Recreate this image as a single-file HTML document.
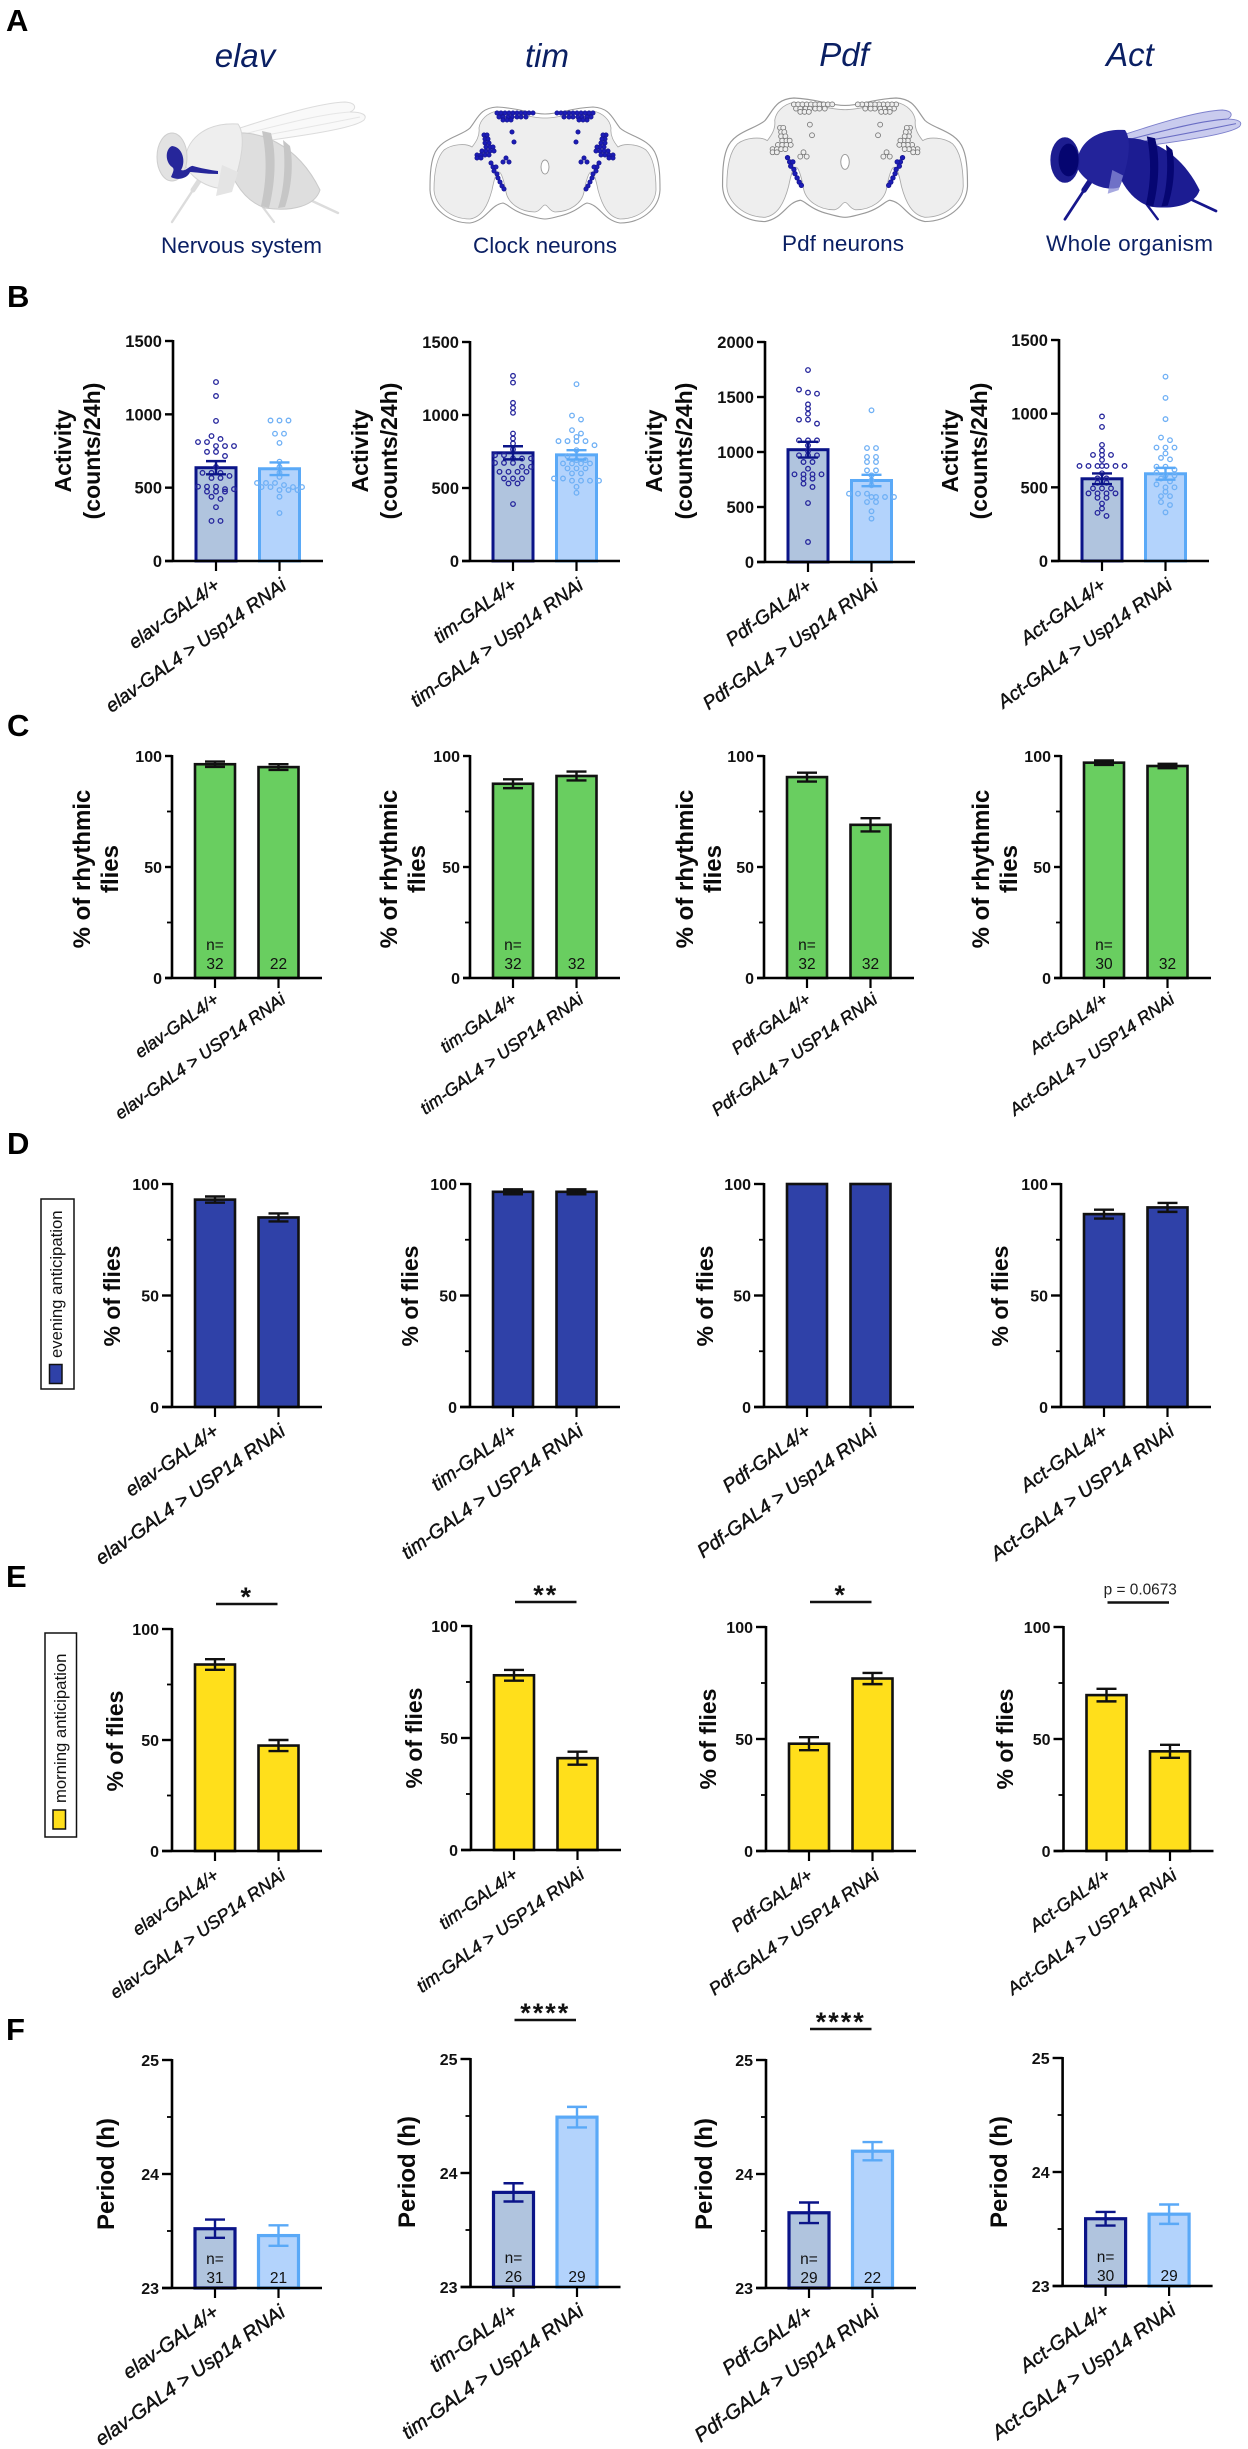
<!DOCTYPE html>
<html lang="en">
<head>
<meta charset="utf-8">
<title>Usp14 RNAi activity and rhythm panels</title>
<style>
html,body{margin:0;padding:0;background:#fff;width:1248px;height:2449px;overflow:hidden}
svg{display:block}
text{font-family:"Liberation Sans",Arial,sans-serif}
.letter{font-size:31px;font-weight:700;fill:#000}
.gene{font-size:33px;font-style:italic;fill:#0a1f63;text-anchor:middle}
.tissue{font-size:22.5px;fill:#0a1f63}
.legend-text{font-size:16.7px;fill:#111}
</style>
</head>
<body>
<svg id="root" xmlns="http://www.w3.org/2000/svg" width="1248" height="2449" viewBox="0 0 1248 2449">
<rect width="1248" height="2449" fill="#fff"/>

<text class="letter" x="6" y="31">A</text>
<text class="letter" x="7" y="307">B</text>
<text class="letter" x="7" y="736">C</text>
<text class="letter" x="7" y="1154">D</text>
<text class="letter" x="6" y="1587">E</text>
<text class="letter" x="6" y="2040">F</text>

<text class="gene" x="245" y="67">elav</text>
<text class="gene" x="547" y="67">tim</text>
<text class="gene" x="844" y="66">Pdf</text>
<text class="gene" x="1130" y="66">Act</text>

<text class="tissue" x="161" y="253" textLength="161">Nervous system</text>
<text class="tissue" x="473" y="253" textLength="144">Clock neurons</text>
<text class="tissue" x="782" y="251" textLength="122">Pdf neurons</text>
<text class="tissue" x="1046" y="251" textLength="167">Whole organism</text>

<g>
  <g fill="none" stroke="#dcdcdc" stroke-linecap="round" stroke-linejoin="round">
    <path d="M205 172 L193 190" stroke-width="5"/>
    <path d="M193 190 L172 222" stroke-width="2.4"/>
    <path d="M235 165 L250 190" stroke-width="5"/>
    <path d="M250 190 L274 222" stroke-width="2.2"/>
    <path d="M255 150 L272 172 L295 193" stroke-width="5"/>
    <path d="M295 193 L338 213" stroke-width="2.4"/>
  </g>
  <path d="M240 128 C280 115 320 103 345 102 C358 103 356 110 350 112 C362 112 368 115 364 120 C355 128 310 135 235 145 Z" fill="#f9f9f9" stroke="#dcdcdc" stroke-width="1"/>
  <path d="M240 135 C280 125 320 114 350 112 M238 140 C280 133 325 124 360 117" fill="none" stroke="#e6e6e6" stroke-width="1"/>
  <path d="M222 135 C258 126 298 145 320 190 C315 206 292 212 265 208 C242 200 226 175 222 135 Z" fill="#dedede" stroke="#cacaca" stroke-width="1"/>
  <path d="M262 131 L271 133 C277 155 275 185 269 208 L261 206 C267 180 267 155 262 131 Z" fill="#c6c6c6"/>
  <path d="M283 140 L290 146 C294 165 291 190 285 207 L278 208 C284 190 286 165 283 140 Z" fill="#c6c6c6"/>
  <path d="M185 165 C184 140 205 122 238 124 C246 135 242 162 232 187 C215 192 194 182 185 165 Z" fill="#eeeeee" stroke="#d6d6d6" stroke-width="1"/>
  <ellipse cx="172" cy="157" rx="15" ry="24" fill="#e2e2e2" stroke="#cecece" stroke-width="1"/>
  <path d="M222 165 L238 172 L232 192 L216 196 Z" fill="#e4e4e4"/>
  <path d="M172 146 C183 147 186 162 181 170 C186 172 190 165 193 166 C200 168 210 170 218 171 L218 174 C205 174 195 172 190 172 C188 178 178 181 171 177 C173 172 175 169 172 167 C165 162 165 149 172 146 Z" fill="#26269a"/>
</g>

<g transform="translate(1044 110) scale(.91) translate(-149 -102)">
  <g fill="none" stroke="#16168c" stroke-linecap="round" stroke-linejoin="round">
    <path d="M205 172 L193 190" stroke-width="6"/>
    <path d="M193 190 L172 222" stroke-width="3"/>
    <path d="M235 165 L250 190" stroke-width="6"/>
    <path d="M250 190 L274 222" stroke-width="2.6"/>
    <path d="M255 150 L272 172 L295 193" stroke-width="6"/>
    <path d="M295 193 L338 213" stroke-width="3"/>
  </g>
  <path d="M240 128 C280 115 320 103 345 102 C358 103 356 110 350 112 C362 112 368 115 364 120 C355 128 310 135 235 145 Z" fill="#c9cbee" stroke="#7d80cc" stroke-width="1"/>
  <path d="M240 135 C280 125 320 114 350 112 M238 140 C280 133 325 124 360 117" fill="none" stroke="#6a6dc4" stroke-width="1.2"/>
  <path d="M222 135 C258 126 298 145 320 190 C315 206 292 212 265 208 C242 200 226 175 222 135 Z" fill="#1c1c92"/>
  <path d="M262 131 L271 133 C277 155 275 185 269 208 L261 206 C267 180 267 155 262 131 Z" fill="#060672"/>
  <path d="M283 140 L290 146 C294 165 291 190 285 207 L278 208 C284 190 286 165 283 140 Z" fill="#060672"/>
  <path d="M185 165 C184 140 205 122 238 124 C246 135 242 162 232 187 C215 192 194 182 185 165 Z" fill="#23239a"/>
  <ellipse cx="172" cy="157" rx="16" ry="25" fill="#1d1d90"/>
  <ellipse cx="176" cy="157" rx="11" ry="18" fill="#050570"/>
  <path d="M224 168 L236 174 L231 190 L219 194 Z" fill="#8a8cd6" opacity=".75"/>
</g>

<g id="brains"></g>

<g>
  <rect x="41" y="1199" width="33" height="190" fill="#fff" stroke="#111" stroke-width="1.5"/>
  <rect x="49.5" y="1364.5" width="12.5" height="19" fill="#2f41a8" stroke="#111" stroke-width="1.5"/>
  <text class="legend-text" transform="translate(62 1358) rotate(-90)">evening anticipation</text>
</g>
<g>
  <rect x="45" y="1633" width="31.5" height="204" fill="#fff" stroke="#111" stroke-width="1.5"/>
  <rect x="53" y="1810" width="12.5" height="19" fill="#ffdf1b" stroke="#111" stroke-width="1.5"/>
  <text class="legend-text" transform="translate(66 1803) rotate(-90)">morning anticipation</text>
</g>

<g id="charts"></g>
</svg>

<script>
/* ---------- chart data ---------- */
const controlLabels = ['elav-GAL4/+', 'tim-GAL4/+', 'Pdf-GAL4/+', 'Act-GAL4/+'];
const rowBTestLabels = ['elav-GAL4 > Usp14 RNAi', 'tim-GAL4 > Usp14 RNAi', 'Pdf-GAL4 > Usp14 RNAi', 'Act-GAL4 > Usp14 RNAi'];
const rowCTestLabels = ['elav-GAL4 > USP14 RNAi', 'tim-GAL4 > USP14 RNAi', 'Pdf-GAL4 > USP14 RNAi', 'Act-GAL4 > USP14 RNAi'];
const rowDTestLabels = ['elav-GAL4 > USP14 RNAi', 'tim-GAL4 > USP14 RNAi', 'Pdf-GAL4 > Usp14 RNAi', 'Act-GAL4 > USP14 RNAi'];
const rowETestLabels = ['elav-GAL4 > USP14 RNAi', 'tim-GAL4 > USP14 RNAi', 'Pdf-GAL4 > USP14 RNAi', 'Act-GAL4 > USP14 RNAi'];
const rowFTestLabels = ['elav-GAL4 > Usp14 RNAi', 'tim-GAL4 > Usp14 RNAi', 'Pdf-GAL4 > Usp14 RNAi', 'Act-GAL4 > Usp14 RNAi'];

const activityMajorTicks = [[0, 500, 1000, 1500], [0, 500, 1000, 1500], [0, 500, 1000, 1500, 2000], [0, 500, 1000, 1500]];
const percentMajorTicks = [0, 50, 100];
const percentMinorTicks = [25, 75];
const periodMajorTicks = [23, 24, 25];
const periodMinorTicks = [23.5, 24.5];

const activityMeans = [[636, 629], [741, 727], [1021, 741], [558, 592]];
const activityErrors = [[45, 43], [45, 32], [72, 52], [36, 40]];

const dotsElavControl = [1220,1125,955,852,832,811,811,784,784,784,744,744,716,641,601,601,601,580,566,566,507,507,507,490,490,473,473,473,438,423,367,273,273];
const dotsElavRnai = [958,958,958,868,868,805,677,641,602,573,532,532,532,518,504,504,504,504,484,484,484,438,327];
const dotsTimControl = [1268,1222,1083,1049,1015,873,839,805,764,725,725,702,702,702,672,672,672,645,645,611,611,611,611,565,565,565,531,531,390];
const dotsTimRnai = [1211,996,969,896,873,850,821,821,821,821,793,759,718,691,691,668,668,668,668,634,634,634,600,600,565,565,550,550,550,550,508,467];
const dotsPdfControl = [1745,1567,1540,1530,1433,1394,1348,1294,1294,1258,1106,1106,1106,1060,1009,970,970,970,909,909,848,797,797,797,797,758,758,712,682,536,182];
const dotsPdfRnai = [1379,1036,1036,955,955,909,909,833,833,788,742,697,621,621,621,591,591,591,591,545,545,461,394];
const dotsActControl = [981,910,788,749,720,720,720,686,645,645,645,645,645,645,645,595,561,561,531,531,493,493,493,459,459,459,459,429,429,390,356,327,306];
const dotsActRnai = [1251,1107,963,838,820,770,770,770,730,700,690,640,640,620,600,580,580,560,540,520,500,500,470,440,440,400,380,330];

const rhythmicMeans = [[96.3, 95], [87.5, 91], [90.5, 69], [97, 95.5]];
const rhythmicErrors = [[1.2, 1.3], [2, 2], [2, 3], [1, 1]];
const rhythmicCounts = [[32, 22], [32, 32], [32, 32], [30, 32]];

const eveningMeans = [[93, 85], [96.5, 96.5], [100, 100], [86.5, 89.5]];
const eveningErrors = [[1.4, 1.8], [1.1, 1.1], [0, 0], [2, 2]];

const morningMeans = [[84, 47.5], [78, 41], [47.9, 77], [69.6, 44.5]];
const morningErrors = [[2.4, 2.5], [2.4, 2.9], [2.9, 2.5], [2.8, 2.9]];
const morningSignificance = ['*', '**', '*', 'p = 0.0673'];

const periodMeans = [[23.52, 23.46], [23.83, 24.49], [23.66, 24.2], [23.59, 23.63]];
const periodErrors = [[0.08, 0.09], [0.08, 0.09], [0.09, 0.08], [0.06, 0.085]];
const periodCounts = [[31, 21], [26, 29], [29, 22], [30, 29]];
const periodSignificance = ['', '****', '****', ''];

/* ---------- helpers ---------- */
const SVG_NS = 'http://www.w3.org/2000/svg';
function make(tag, attrs, parent, text) {
  const node = document.createElementNS(SVG_NS, tag);
  for (const key in attrs) node.setAttribute(key, attrs[key]);
  if (text !== undefined) node.textContent = text;
  parent.appendChild(node);
  return node;
}
function linearScale(min, max, pxBottom, pxTop) {
  return function (v) { return pxBottom - (v - min) / (max - min) * (pxBottom - pxTop); };
}
function swarm(values, yScale, centerX, step) {
  const sorted = values.slice().sort(function (a, b) { return b - a; });
  const groups = [];
  sorted.forEach(function (v) {
    const last = groups[groups.length - 1];
    if (last && Math.abs(yScale(last[0]) - yScale(v)) < 4.2 && last.length < 6) last.push(v);
    else groups.push([v]);
  });
  const out = [];
  groups.forEach(function (group) {
    group.forEach(function (v, i) {
      out.push({ x: centerX + (i - (group.length - 1) / 2) * step, y: yScale(v) });
    });
  });
  return out;
}

/* ---------- brains (illustration) ---------- */
function drawBrain(parent, matrix, blueAll) {
  const g = make('g', { transform: matrix }, parent);
  
  
  make('path', { d: 'M545 114 C530 114 520 108 497 107 C480 108 478 118 470 128 C462 136 440 138 434 155 C430 165 430 180 430 190 C431 210 450 223 470 223 C487 220 490 205 503 203 C508 204 513 212 530 216 C538 218 541 219 545 219 C549 219 552 218 560 216 C577 212 582 204 587 203 C600 205 603 220 620 223 C640 223 659 210 660 190 C660 180 660 165 656 155 C650 138 628 136 620 128 C612 118 610 108 593 107 C570 108 560 114 545 114 Z', fill: '#fff', stroke: '#9a9a9a', 'stroke-width': 1.1 }, g);
  make('path', { d: 'M545 118 C530 118 515 112 497 111 C487 113 480 120 479 128 C480 136 476 142 472 147 C466 143 452 144 444 150 C436 158 434 175 434 190 C435 205 450 219 470 219 C482 217 488 205 492 190 C494 180 496 172 499 172 C501 172 504 180 506 192 C508 203 520 212 535 212 C541 211 542 205 545 205 C548 205 549 211 555 212 C570 212 582 203 584 192 C586 180 589 172 591 172 C594 172 596 180 598 190 C602 205 608 217 620 219 C640 219 655 205 656 190 C656 175 654 158 646 150 C638 144 624 143 618 147 C614 142 610 136 611 128 C610 120 603 113 593 111 C575 112 560 118 545 118 Z', fill: '#eeeeee', stroke: '#a8a8a8', 'stroke-width': 0.8 }, g);
  make('ellipse', { cx: 545, cy: 167, rx: 4, ry: 7, fill: '#fff', stroke: '#999', 'stroke-width': 0.9 }, g);
  const greyCells = [[497,113],[501,113],[505,113],[509,113],[513,113],[517,113],[521,113],[525,113],[529,113],[533,113],[499,117],[503,117],[508,117],[512,117],[517,117],[521,117],[526,117],[503,120],[507,120],[511,120],[512,132],[514,142],[484,135],[487,135],[485,139],[488,139],[485,143],[489,143],[486,147],[490,147],[493,147],[482,151],[486,151],[490,151],[494,151],[477,155],[481,155],[485,155],[489,155],[477,158],[481,158],[506,158],[503,162],[509,162]];
  const blueCells = [[491,163],[493,167],[496,167],[494,171],[497,174],[498,178],[500,182],[502,186],[504,189]];
  const drawCell = function (px, py, blue) {
    const fill = blue ? '#1c1cb8' : (blueAll ? '#1c1cb8' : '#eeeeee');
    const stroke = blue ? '#161690' : (blueAll ? '#161690' : '#777');
    const r = (blue || blueAll) ? 2.1 : 2.3;
    const cell = make('circle', { cx: px, cy: py, r: r, fill: fill, stroke: stroke, 'stroke-width': 0.8 }, g);
    
    
  };
  greyCells.forEach(function (c) { drawCell(c[0], c[1], false); drawCell(1090 - c[0], c[1], false); });
  blueCells.forEach(function (c) { drawCell(c[0], c[1], true); drawCell(1090 - c[0], c[1], true); });
}
const brainLayer = document.getElementById('brains');
drawBrain(brainLayer, 'matrix(1 0 0 1 0 0)', true);
drawBrain(brainLayer, 'matrix(1.065 0 0 1.065 264.6 -15.96)', false);

/* ---------- chart drawing ---------- */
const NAVY = '#0b1488', SKY = '#5aa9f7', FILL_A = '#b0c4de', FILL_B = '#b3d3fc';
const BAR_OFFSET_1 = 43, BAR_SPACING = 63.5, BAR_WIDTH = 40;
const chartLayer = document.getElementById('charts');

function drawPanel(cfg) {
  const panel = make('g', {}, chartLayer);
  
  

  const yScale = linearScale(cfg.min, cfg.max, cfg.bottom, cfg.top);
  const xBand = function (i) { return cfg.axisX + BAR_OFFSET_1 + i * BAR_SPACING; };

  [0, 1].forEach(function (i) {
    const cx = xBand(i);
    const barTop = yScale(cfg.means[i]);
    const bar = make('rect', { x: cx - BAR_WIDTH / 2, y: barTop, width: BAR_WIDTH, height: cfg.bottom - barTop, fill: cfg.fills[i], stroke: cfg.strokes[i], 'stroke-width': cfg.barStroke }, panel);
    
    
  });

  if (cfg.dots) {
    [0, 1].forEach(function (i) {
      swarm(cfg.dots[i], yScale, xBand(i), 9).forEach(function (pt) {
        const dot = make('circle', { cx: pt.x, cy: pt.y, r: 2.3, fill: 'none', stroke: i === 0 ? '#25259c' : '#6fb0f5', 'stroke-width': 1.3 }, panel);
        
        
      });
    });
  }

  [0, 1].forEach(function (i) {
    if (cfg.errors[i] <= 0) return;
    const cx = xBand(i);
    const hi = yScale(cfg.means[i] + cfg.errors[i]);
    const lo = yScale(cfg.means[i] - cfg.errors[i]);
    const color = cfg.errorColors[i];
    const d = 'M' + (cx - 10) + ' ' + hi + 'H' + (cx + 10) + 'M' + cx + ' ' + hi + 'V' + lo + 'M' + (cx - 10) + ' ' + lo + 'H' + (cx + 10);
    const err = make('path', { d: d, fill: 'none', stroke: color, 'stroke-width': 2.4 }, panel);
    
    
  });

  const axis = make('path', { d: 'M' + cfg.axisX + ' ' + (yScale(cfg.max) - 1) + 'V' + cfg.bottom, stroke: '#000', 'stroke-width': 2.6, fill: 'none' }, panel);
  
  
  const base = make('path', { d: 'M' + (cfg.axisX - cfg.tickLength) + ' ' + cfg.bottom + 'H' + (cfg.axisX + 150), stroke: '#000', 'stroke-width': 2.6, fill: 'none' }, panel);
  
  

  cfg.majorTicks.forEach(function (v) {
    const y = yScale(v);
    const tick = make('path', { d: 'M' + (cfg.axisX - cfg.tickLength) + ' ' + y + 'H' + cfg.axisX, stroke: '#000', 'stroke-width': 2.4 }, panel);
    
    
    const label = make('text', { x: cfg.axisX - cfg.tickLength - 3, y: y + 6, 'text-anchor': 'end', 'font-size': cfg.tickFont, 'font-weight': 700, fill: '#111' }, panel, String(v));
    
    
  });
  (cfg.minorTicks || []).forEach(function (v) {
    const y = yScale(v);
    const minor = make('path', { d: 'M' + (cfg.axisX - 5) + ' ' + y + 'H' + cfg.axisX, stroke: '#000', 'stroke-width': 1.8 }, panel);
    
    
  });

  [0, 1].forEach(function (i) {
    const cx = xBand(i);
    const tick = make('path', { d: 'M' + cx + ' ' + cfg.bottom + 'V' + (cfg.bottom + 10), stroke: '#000', 'stroke-width': 2.2 }, panel);
    
    
    const ex = cx + (i === 0 ? 5 : 8);
    const ey = cfg.bottom + cfg.labelDrop;
    const label = make('text', { transform: 'translate(' + ex + ' ' + ey + ') rotate(-35.4)', 'text-anchor': 'end', 'font-size': cfg.labelFont, 'font-style': 'italic', fill: '#111', stroke: '#111', 'stroke-width': 0.45 }, panel, cfg.labels[i]);
    
    
  });

  cfg.titleLines.forEach(function (line) {
    const t = make('text', { transform: 'translate(' + line.x + ' ' + cfg.titleY + ') rotate(-90)', 'text-anchor': 'middle', 'font-size': cfg.titleFont, 'font-weight': 700, fill: '#0a0a0a' }, panel, line.text);
    
    
  });

  if (cfg.counts) {
    const first = make('text', { x: xBand(0), y: cfg.bottom - cfg.countDrop - 19, 'text-anchor': 'middle', 'font-size': 15.5, fill: '#111' }, panel, 'n=');
    
    
    [0, 1].forEach(function (i) {
      const c = make('text', { x: xBand(i), y: cfg.bottom - cfg.countDrop, 'text-anchor': 'middle', 'font-size': 15.5, fill: '#111' }, panel, String(cfg.counts[i]));
      
      
    });
  }

  if (cfg.sigLabel) {
    const x1 = xBand(0) + 1, x2 = xBand(1) - 1;
    const mid = (x1 + x2) / 2;
    const line = make('path', { d: 'M' + x1 + ' ' + cfg.sigY + 'H' + x2, stroke: '#111', 'stroke-width': 2.6 }, panel);
    
    
    const isStars = cfg.sigLabel.charAt(0) === '*';
    const s = make('text', isStars
      ? { x: mid, y: cfg.sigY + 2, 'text-anchor': 'middle', 'font-size': 27, 'font-weight': 700, 'letter-spacing': 2, fill: '#111' }
      : { x: mid + 2, y: cfg.sigY - 8, 'text-anchor': 'middle', 'font-size': 15.4, fill: '#222' }, panel, cfg.sigLabel);
    
    
  }
}

/* ---------- row B ---------- */
const activityDots = [[dotsElavControl, dotsElavRnai], [dotsTimControl, dotsTimRnai], [dotsPdfControl, dotsPdfRnai], [dotsActControl, dotsActRnai]];
const geoB = { axis: [173, 470, 765, 1059], top: [341, 342, 342, 340], bottom: [561, 561, 562, 561], l1: [71, 368, 662, 958], l2: [100, 397, 692, 987] };
[0, 1, 2, 3].forEach(function (c) {
  const ticks = activityMajorTicks[c];
  drawPanel({
    axisX: geoB.axis[c], top: geoB.top[c], bottom: geoB.bottom[c],
    min: ticks[0], max: ticks[ticks.length - 1], majorTicks: ticks,
    means: activityMeans[c], errors: activityErrors[c], dots: activityDots[c],
    fills: [FILL_A, FILL_B], strokes: [NAVY, SKY], errorColors: [NAVY, SKY], barStroke: 3,
    tickLength: 8, tickFont: 16.5, labelFont: 19, labelDrop: 27,
    labels: [controlLabels[c], rowBTestLabels[c]],
    titleFont: 23, titleY: 451,
    titleLines: [{ x: geoB.l1[c], text: 'Activity' }, { x: geoB.l2[c], text: '(counts/24h)' }]
  });
});

/* ---------- row C ---------- */
const geoC = { axis: [172, 470, 764, 1061], l1: [90, 397, 693, 989], l2: [118, 425, 721, 1017] };
[0, 1, 2, 3].forEach(function (c) {
  drawPanel({
    axisX: geoC.axis[c], top: 756, bottom: 978, min: 0, max: 100,
    majorTicks: percentMajorTicks, minorTicks: percentMinorTicks,
    means: rhythmicMeans[c], errors: rhythmicErrors[c], counts: rhythmicCounts[c], countDrop: 9,
    fills: ['#69ce60', '#69ce60'], strokes: ['#111', '#111'], errorColors: ['#111', '#111'], barStroke: 2.6,
    tickLength: 7, tickFont: 16, labelFont: 17.5, labelDrop: 24,
    labels: [controlLabels[c], rowCTestLabels[c]],
    titleFont: 24, titleY: 869,
    titleLines: [{ x: geoC.l1[c], text: '% of rhythmic' }, { x: geoC.l2[c], text: 'flies' }]
  });
});

/* ---------- row D ---------- */
const geoD = { axis: [172, 470, 764, 1061], l1: [120, 418, 713, 1008] };
[0, 1, 2, 3].forEach(function (c) {
  drawPanel({
    axisX: geoD.axis[c], top: 1184, bottom: 1407, min: 0, max: 100,
    majorTicks: percentMajorTicks, minorTicks: percentMinorTicks,
    means: eveningMeans[c], errors: eveningErrors[c],
    fills: ['#2f41a8', '#2f41a8'], strokes: ['#111', '#111'], errorColors: ['#111', '#111'], barStroke: 2.6,
    tickLength: 10, tickFont: 16, labelFont: 19.5, labelDrop: 27,
    labels: [controlLabels[c], rowDTestLabels[c]],
    titleFont: 23, titleY: 1296,
    titleLines: [{ x: geoD.l1[c], text: '% of flies' }]
  });
});

/* ---------- row E ---------- */
const geoE = { axis: [172, 471, 766, 1063.5], top: [1629, 1626, 1627, 1627], bottom: [1851, 1850, 1851, 1851], l1: [123, 422, 716, 1013], titleY: [1741, 1738, 1739, 1739], sigY: [1604, 1602, 1602, 1602.5] };
[0, 1, 2, 3].forEach(function (c) {
  drawPanel({
    axisX: geoE.axis[c], top: geoE.top[c], bottom: geoE.bottom[c], min: 0, max: 100,
    majorTicks: percentMajorTicks, minorTicks: percentMinorTicks,
    means: morningMeans[c], errors: morningErrors[c],
    fills: ['#ffdf1b', '#ffdf1b'], strokes: ['#111', '#111'], errorColors: ['#111', '#111'], barStroke: 2.6,
    tickLength: 10, tickFont: 16, labelFont: 18, labelDrop: 27,
    labels: [controlLabels[c], rowETestLabels[c]],
    titleFont: 23, titleY: geoE.titleY[c],
    titleLines: [{ x: geoE.l1[c], text: '% of flies' }],
    sigLabel: morningSignificance[c], sigY: geoE.sigY[c]
  });
});

/* ---------- row F ---------- */
const geoF = { axis: [172, 470.5, 766, 1062.6], top: [2060, 2059, 2060, 2058], bottom: [2288, 2287, 2288, 2286], l1: [114, 415, 712, 1007], titleY: [2174, 2172, 2174, 2172], sigY: [0, 2020, 2029, 0] };
[0, 1, 2, 3].forEach(function (c) {
  drawPanel({
    axisX: geoF.axis[c], top: geoF.top[c], bottom: geoF.bottom[c], min: 23, max: 25,
    majorTicks: periodMajorTicks, minorTicks: periodMinorTicks,
    means: periodMeans[c], errors: periodErrors[c], counts: periodCounts[c], countDrop: 5,
    fills: [FILL_A, FILL_B], strokes: [NAVY, SKY], errorColors: [NAVY, SKY], barStroke: 3.2,
    tickLength: 10, tickFont: 16, labelFont: 20, labelDrop: 27,
    labels: [controlLabels[c], rowFTestLabels[c]],
    titleFont: 24, titleY: geoF.titleY[c],
    titleLines: [{ x: geoF.l1[c], text: 'Period (h)' }],
    sigLabel: periodSignificance[c], sigY: geoF.sigY[c]
  });
});
</script>
</body>
</html>
